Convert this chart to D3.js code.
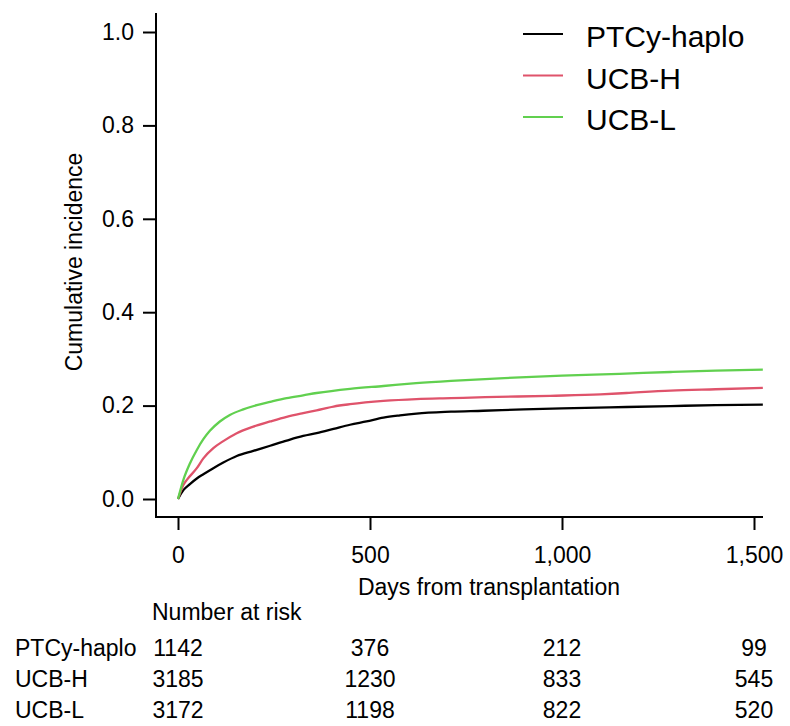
<!DOCTYPE html>
<html>
<head>
<meta charset="utf-8">
<script src="https://cdn.jsdelivr.net/npm/d3@7"></script>
<style>
  body { margin: 0; background: #fff; }
  svg { display: block; font-family: "Liberation Sans", Arial, sans-serif; }
</style>
</head>
<body>
<div id="chart-area"></div>
<script>
// Cumulative incidence by graft type

const WIDTH = 790
const HEIGHT = 726

// series (day, cumulative incidence)
const groups = ["PTCy-haplo", "UCB-H", "UCB-L"]
const colors = ["#000000", "#DF536B", "#61D04F"]

const ptcyDays = [0, 14, 31, 49, 66, 92, 118, 153, 196, 240, 283, 326, 361, 405, 448, 491, 535, 578, 621, 711, 795, 900, 1000, 1168, 1283, 1400, 1523]
const ptcyCI   = [0, 0.019, 0.032, 0.044, 0.053, 0.066, 0.078, 0.092, 0.103, 0.114, 0.125, 0.135, 0.141, 0.150, 0.159, 0.166, 0.174, 0.179, 0.183, 0.187, 0.189, 0.192, 0.194, 0.197, 0.199, 0.201, 0.202]

const ucbhDays = [0, 14, 23, 49, 66, 92, 118, 153, 196, 240, 283, 326, 361, 405, 448, 535, 621, 711, 800, 969, 1100, 1168, 1283, 1400, 1523]
const ucbhCI   = [0, 0.030, 0.041, 0.066, 0.087, 0.109, 0.124, 0.141, 0.155, 0.166, 0.176, 0.184, 0.190, 0.198, 0.203, 0.210, 0.214, 0.216, 0.218, 0.221, 0.224, 0.227, 0.232, 0.235, 0.238]

const ucblDays = [0, 14, 31, 49, 66, 83, 109, 135, 170, 205, 240, 283, 326, 361, 448, 535, 620, 711, 850, 1000, 1150, 1283, 1400, 1523]
const ucblCI   = [0, 0.041, 0.076, 0.105, 0.128, 0.146, 0.166, 0.180, 0.192, 0.201, 0.208, 0.216, 0.222, 0.227, 0.236, 0.242, 0.248, 0.253, 0.259, 0.264, 0.268, 0.272, 0.275, 0.277]

// number at risk table
const riskDays = [0, 500, 1000, 1500]
const riskPtcy = [1142, 376, 212, 99]
const riskUcbh = [3185, 1230, 833, 545]
const riskUcbl = [3172, 1198, 822, 520]

const xTicks = [0, 500, 1000, 1500]
const yTicks = [0, 0.2, 0.4, 0.6, 0.8, 1.0]

// layout
const AXIS_X = 156
const AXIS_Y = 517
const AXIS_TOP = 13
const AXIS_RIGHT = 763
const FONT = "23px"
const INK = "#000"

const svg = d3.select("#chart-area").append("svg")
  .attr("width", WIDTH)
  .attr("height", HEIGHT)

const x = d3.scaleLinear().domain([0, 1500]).range([178, 754])
const y = d3.scaleLinear().domain([0, 1]).range([499, 32])

// Y Axis
const yAxisCall = d3.axisLeft(y)
  .tickValues(yTicks)
  .tickFormat(d3.format(".1f"))
  .tickSize(13)
  .tickPadding(9)
const yAxis = svg.append("g")
  .attr("class", "y axis")
  .attr("transform", `translate(${AXIS_X}, 0)`)
  .call(yAxisCall)

// X Axis
const xAxisCall = d3.axisBottom(x)
  .tickValues(xTicks)
  .tickFormat(d3.format(","))
  .tickSize(13)
  .tickPadding(17)
const xAxis = svg.append("g")
  .attr("class", "x axis")
  .attr("transform", `translate(0, ${AXIS_Y})`)
  .call(xAxisCall)

svg.selectAll(".axis .domain").remove()
svg.selectAll(".axis line").attr("stroke", INK).attr("stroke-width", 2)
svg.selectAll(".axis text")
  .attr("font-size", FONT)
  .attr("font-family", "Liberation Sans, Arial, sans-serif")
  .attr("fill", INK)

// L-shaped frame
svg.append("path")
  .attr("d", `M${AXIS_X},${AXIS_TOP}V${AXIS_Y}H${AXIS_RIGHT}`)
  .attr("fill", "none")
  .attr("stroke", INK)
  .attr("stroke-width", 2)

// Labels
svg.append("text")
  .attr("transform", `translate(82, 262) rotate(-90)`)
  .attr("text-anchor", "middle")
  .attr("font-size", FONT)
  .attr("fill", INK)
  .text("Cumulative incidence")

svg.append("text")
  .attr("x", 489)
  .attr("y", 595)
  .attr("text-anchor", "middle")
  .attr("font-size", FONT)
  .attr("fill", INK)
  .text("Days from transplantation")

// curves
const seriesDays = [ptcyDays, ucbhDays, ucblDays]
const seriesCI = [ptcyCI, ucbhCI, ucblCI]

const line = d3.line()
  .x(d => x(d[0]))
  .y(d => y(d[1]))
  .curve(d3.curveMonotoneX)

groups.forEach((name, i) => {
  const pts = seriesDays[i].map((d, j) => [d, seriesCI[i][j]])
  svg.append("path")
    .datum(pts)
    .attr("fill", "none")
    .attr("stroke", colors[i])
    .attr("stroke-width", 2.3)
    .attr("stroke-linejoin", "round")
    .attr("d", line)
})

// Legend
const legend = svg.append("g").attr("class", "legend")
groups.forEach((name, i) => {
  const ly = 34 + i * 41.5
  legend.append("line")
    .attr("x1", 523).attr("x2", 563)
    .attr("y1", ly).attr("y2", ly)
    .attr("stroke", colors[i])
    .attr("stroke-width", 2)
  legend.append("text")
    .attr("x", 586)
    .attr("y", ly + 13)
    .attr("font-size", "30px")
    .attr("fill", INK)
    .text(name)
})

// Number at risk
svg.append("text")
  .attr("x", 152)
  .attr("y", 620)
  .attr("font-size", FONT)
  .attr("fill", INK)
  .text("Number at risk")

const riskRows = [riskPtcy, riskUcbh, riskUcbl]
riskRows.forEach((row, i) => {
  const by = 656 + i * 31
  svg.append("text")
    .attr("x", 15)
    .attr("y", by)
    .attr("font-size", FONT)
    .attr("fill", INK)
    .text(groups[i])
  svg.selectAll(null)
    .data(row)
    .enter().append("text")
    .attr("x", (d, j) => x(riskDays[j]))
    .attr("y", by)
    .attr("text-anchor", "middle")
    .attr("font-size", FONT)
    .attr("fill", INK)
    .text(d => d)
})
</script>
</body>
</html>
